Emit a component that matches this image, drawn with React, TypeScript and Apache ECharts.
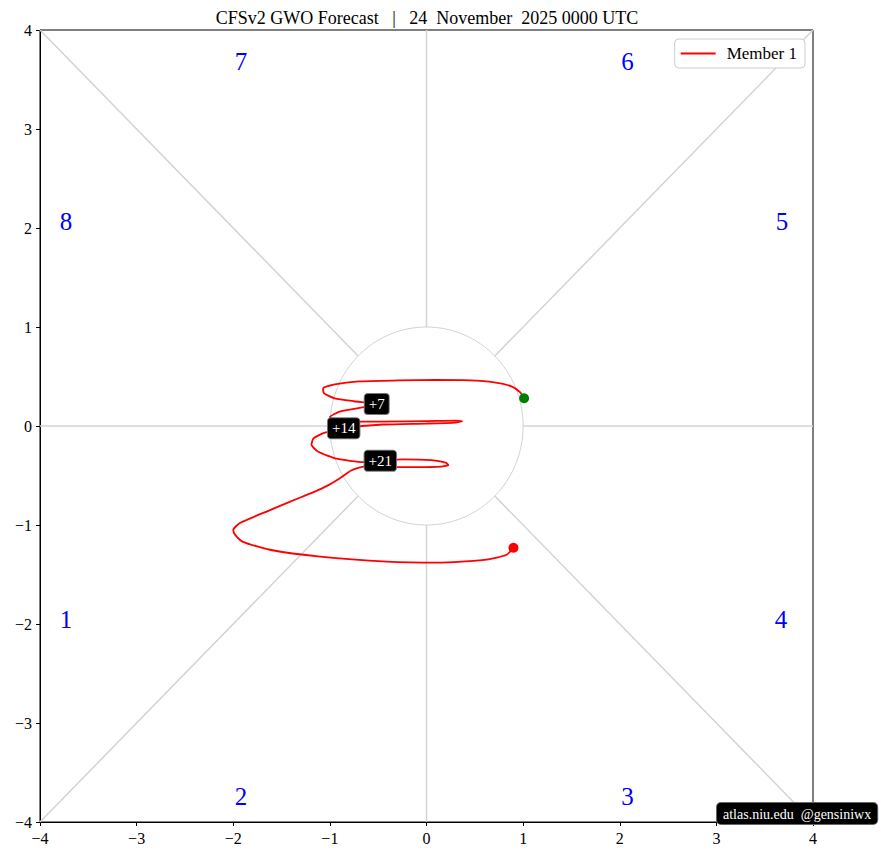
import React, { useEffect, useRef } from "react";
import * as echarts from "echarts";

const TITLE = "CFSv2 GWO Forecast   |   24  November  2025 0000 UTC";
const SERIES_NAME = "Member 1";
const WATERMARK = "atlas.niu.edu  @gensiniwx";

// trajectory (GWO phase space), in order from start (green) to end (red)
const trackX = [
  1.01, 0.97, 0.88, 0.7, 0.45, 0.1, -0.3, -0.7, -0.95, -1.07, -1.06, -0.95, -0.75, -0.515,
  -0.65, -0.9, -1.0, -0.85, -0.45, 0.0, 0.3, 0.37, 0.3, 0.0, -0.45, -0.857,
  -1.06, -1.17, -1.19, -1.12, -0.93, -0.65, -0.478,
  -0.25, 0.05, 0.2, 0.226, 0.15, -0.1, -0.4, -0.65, -0.78, -0.9, -1.02, -1.15, -1.3, -1.62,
  -1.93, -2.0, -1.98, -1.9, -1.62, -1.1, -0.41, 0.11, 0.62, 0.83, 0.9,
];
const trackY = [
  0.28, 0.34, 0.4, 0.44, 0.46, 0.465, 0.46, 0.45, 0.42, 0.38, 0.33, 0.28, 0.25, 0.222,
  0.19, 0.145, 0.09, 0.045, 0.045, 0.05, 0.055, 0.048, 0.035, 0.025, 0.015, -0.023,
  -0.07, -0.125, -0.19, -0.26, -0.33, -0.365, -0.352,
  -0.337, -0.345, -0.37, -0.394, -0.41, -0.415, -0.415, -0.41, -0.45, -0.53, -0.6, -0.66, -0.72, -0.85,
  -0.98, -1.05, -1.1, -1.17, -1.25, -1.32, -1.37, -1.38, -1.35, -1.3, -1.23,
];

const dayLabels = ["+7", "+14", "+21"];
const dayLabelX = [-0.515, -0.857, -0.478];
const dayLabelY = [0.222, -0.023, -0.352];

const phaseNames = ["1", "2", "3", "4", "5", "6", "7", "8"];
const phaseX = [-3.73, -1.92, 2.08, 3.67, 3.68, 2.08, -1.92, -3.73];
const phaseY = [-1.95, -3.74, -3.74, -1.95, 2.07, 3.68, 3.68, 2.07];

const AXIS_MIN = -4;
const AXIS_MAX = 4;
const CIRCLE_R = 1;
const D = 0.7071;
// phase-space spokes: [x0, y0, x1, y1]
const spokeX0 = [-4, 1, 0, 0, -4, D, -4, D];
const spokeY0 = [0, 0, -4, 1, -4, D, 4, -D];
const spokeX1 = [-1, 4, 0, 0, -D, 4, -D, 4];
const spokeY1 = [0, 0, -1, 4, -D, 4, D, -4];

const FONT = "'Liberation Serif', 'DejaVu Serif', serif";
const GRAY = "#d3d3d3";

const fmt = (v: number) => String(v).replace("-", "\u2212");

export default function App() {
  const ref = useRef<HTMLDivElement>(null);

  useEffect(() => {
    if (!ref.current) return;
    const chart = echarts.init(ref.current, undefined, { renderer: "svg" });

    const spokeSeries = spokeX0.map((x0, i) => ({
      type: "line",
      name: "spoke" + i,
      data: [
        [x0, spokeY0[i]],
        [spokeX1[i], spokeY1[i]],
      ],
      showSymbol: false,
      symbol: "none",
      silent: true,
      lineStyle: { color: GRAY, width: 1.5 },
      z: 1,
    }));

    const track = trackX.map((x, i) => [x, trackY[i]]);
    const last = track.length - 1;

    const axisCommon = {
      type: "value",
      min: AXIS_MIN,
      max: AXIS_MAX,
      interval: 1,
      splitLine: { show: false },
      axisLine: { show: true, onZero: false, lineStyle: { color: "#000" } },
      axisTick: { show: true, length: 4, lineStyle: { color: "#000" } },
      axisLabel: { formatter: fmt, color: "#000", fontSize: 16, margin: 8, fontFamily: FONT },
    };

    chart.setOption({
      animation: false,
      textStyle: { fontFamily: FONT },
      title: {
        text: TITLE,
        left: 422,
        textAlign: "center",
        top: 4,
        textStyle: { fontFamily: FONT, fontSize: 18, fontWeight: "normal", color: "#000" },
      },
      legend: {
        data: [{ name: SERIES_NAME, icon: "rect" }],
        right: 76,
        top: 39,
        itemWidth: 35,
        itemHeight: 2,
        itemGap: 10,
        padding: [6, 8, 6, 6],
        borderColor: "#cccccc",
        borderWidth: 1,
        borderRadius: 4,
        backgroundColor: "#fff",
        textStyle: { fontFamily: FONT, fontSize: 17, color: "#000", padding: [0, 0, 0, 6] },
      },
      grid: {
        left: 40,
        right: 68,
        top: 30,
        bottom: 40,
        show: true,
        borderColor: "#000",
        borderWidth: 1,
        backgroundColor: "transparent",
      },
      xAxis: axisCommon,
      yAxis: axisCommon,
      series: [
        ...spokeSeries,
        {
          type: "custom",
          name: "circle",
          silent: true,
          data: [[0, 0]],
          z: 1,
          renderItem: (_p: any, api: any) => {
            const c = api.coord([0, 0]);
            const s = api.size([CIRCLE_R, CIRCLE_R]);
            return {
              type: "ellipse",
              shape: { cx: c[0], cy: c[1], rx: s[0], ry: s[1] },
              style: { fill: "none", stroke: GRAY, lineWidth: 1 },
            };
          },
        },
        {
          type: "scatter",
          name: "phases",
          silent: true,
          symbolSize: 0,
          itemStyle: { opacity: 1 },
          data: phaseX.map((x, i) => ({ value: [x, phaseY[i]], name: phaseNames[i] })),
          label: {
            show: true,
            position: "inside",
            formatter: "{b}",
            color: "#0000ff",
            opacity: 1,
            fontSize: 25,
            fontFamily: FONT,
          },
          z: 2,
        },
        {
          type: "line",
          name: SERIES_NAME,
          data: track,
          showSymbol: false,
          symbol: "none",
          smooth: 0.2,
          color: "#ff0000",
          lineStyle: { color: "#ff0000", width: 1.8 },
          z: 3,
        },
        {
          type: "scatter",
          name: "start",
          data: [track[0]],
          symbolSize: 10,
          itemStyle: { color: "#008000", opacity: 1 },
          z: 4,
        },
        {
          type: "scatter",
          name: "end",
          data: [track[last]],
          symbolSize: 10,
          itemStyle: { color: "#ff0000", opacity: 1 },
          z: 4,
        },
        {
          type: "scatter",
          name: "days",
          symbolSize: 0,
          itemStyle: { opacity: 1 },
          data: dayLabelX.map((x, i) => ({ value: [x, dayLabelY[i]], name: dayLabels[i] })),
          label: {
            show: true,
            position: "inside",
            formatter: "{b}",
            color: "#fff",
            opacity: 1,
            fontSize: 15,
            fontFamily: FONT,
            backgroundColor: "#000",
            borderColor: "#777",
            borderWidth: 1,
            borderRadius: 3,
            padding: [3, 4, 2, 4],
          },
          z: 5,
        },
      ],
      graphic: [
        {
          type: "text",
          left: 716,
          top: 802,
          z: 100,
          style: {
            text: WATERMARK,
            fill: "#fff",
            font: "14px " + FONT,
            backgroundColor: "#000",
            borderColor: "#666",
            borderWidth: 1,
            borderRadius: 4,
            padding: [4, 6, 3, 6],
          },
        },
      ],
    });

    return () => chart.dispose();
  }, []);

  return (
    <div
      ref={ref}
      style={{ position: "fixed", left: 0, top: 0, width: 881, height: 862, background: "#fff" }}
    />
  );
}
